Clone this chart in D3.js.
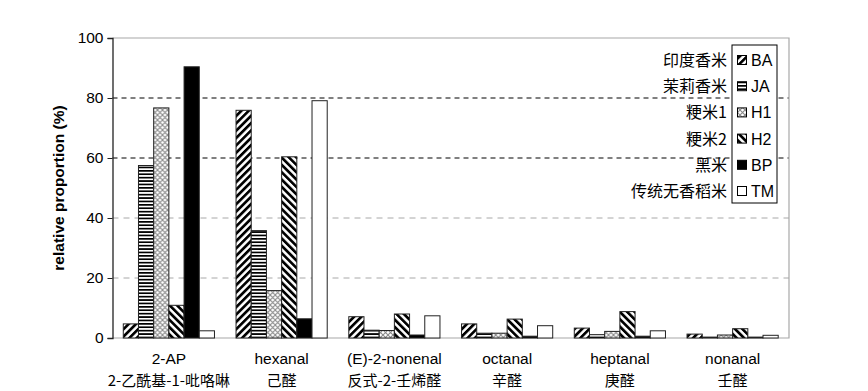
<!DOCTYPE html>
<html><head><meta charset="utf-8">
<script src="https://cdn.jsdelivr.net/npm/d3@7"></script>
<style>body{margin:0;background:#fff}svg{display:block}</style>
</head><body>
<svg id="c" width="868" height="391"></svg>
<script>
const groupsEN = ["2-AP","hexanal","(E)-2-nonenal","octanal","heptanal","nonanal"];
const groupsCN = ["2-乙酰基-1-吡咯啉","己醛","反式-2-壬烯醛","辛醛","庚醛","壬醛"];
const series = ["BA","JA","H1","H2","BP","TM"];
const seriesCN = ["印度香米","茉莉香米","粳米1","粳米2","黑米","传统无香稻米"];
const BA = [4.7, 75.9, 7.1, 4.7, 3.3, 1.3];
const JA = [57.5, 35.8, 2.6, 1.6, 1.1, 0.3];
const H1 = [76.7, 15.8, 2.5, 1.6, 2.2, 1.0];
const H2 = [10.9, 60.4, 8.0, 6.3, 8.8, 3.1];
const BP = [90.4, 6.4, 1.0, 0.6, 0.6, 0.3];
const TM = [2.4, 79.1, 7.4, 4.1, 2.4, 0.9];
const yTicks = [0, 20, 40, 60, 80, 100];
const values = {BA, JA, H1, H2, BP, TM};

const svg = d3.select("#c");
const L = 112.5, R = 789, T = 38, B = 338;
const font = "'Liberation Sans', Arial, sans-serif";
const cjk = "'Noto Sans CJK SC', sans-serif";

// patterns
const defs = svg.append("defs");
function stripes(id, angle) {
  const p = defs.append("pattern").attr("id", id).attr("patternUnits", "userSpaceOnUse")
    .attr("width", 5.2).attr("height", 5.2).attr("patternTransform", `rotate(${angle})`);
  p.append("rect").attr("width", 5.2).attr("height", 5.2).attr("fill", "#fff");
  p.append("rect").attr("width", 2.7).attr("height", 5.2).attr("fill", "#000");
}
stripes("pBA", 45);
stripes("pH2", -45);
{
  const p = defs.append("pattern").attr("id", "pJA").attr("patternUnits", "userSpaceOnUse")
    .attr("width", 4).attr("height", 3.4);
  p.append("rect").attr("width", 4).attr("height", 3.4).attr("fill", "#fff");
  p.append("rect").attr("width", 4).attr("height", 1.7).attr("fill", "#000");
}
{
  const p = defs.append("pattern").attr("id", "pH1").attr("patternUnits", "userSpaceOnUse")
    .attr("width", 5).attr("height", 5);
  p.append("rect").attr("width", 5).attr("height", 5).attr("fill", "#fff");
  p.append("path").attr("d", "M0,0L5,5M5,0L0,5").attr("stroke", "#8a8a8a").attr("stroke-width", 1.1);
}
const fills = {BA: "url(#pBA)", JA: "url(#pJA)", H1: "url(#pH1)", H2: "url(#pH2)", BP: "#000", TM: "#fff"};

const y = d3.scaleLinear().domain([0, 100]).range([B, T]);
const x0 = d3.scaleBand().domain(groupsEN).range([L, R]).padding(0);
const x1 = d3.scaleBand().domain(series).range([0, x0.bandwidth()]).paddingInner(0).paddingOuter(0.71);

// grid
const grid = svg.append("g");
yTicks.filter(t => t > 0 && t < 100).forEach(t => {
  const dark = t >= 60;
  grid.append("line").attr("x1", L).attr("x2", R).attr("y1", y(t)).attr("y2", y(t))
    .attr("stroke", dark ? "#000" : "#a8a8a8").attr("stroke-width", 1)
    .attr("stroke-dasharray", dark ? "5,4" : "6,5");
});
// frame top/right/bottom
svg.append("path").attr("d", `M${L},${y(100)}H${R}V${B}H${L}`).attr("fill", "none")
  .attr("stroke", "#a8a8a8").attr("stroke-width", 1.2);

// bars
const gG = svg.append("g").selectAll("g").data(groupsEN).join("g")
  .attr("transform", d => `translate(${x0(d)},0)`);
gG.selectAll("rect").data((d, i) => series.map(s => ({s, v: values[s][i]}))).join("rect")
  .attr("x", d => x1(d.s)).attr("width", x1.bandwidth())
  .attr("y", d => y(d.v)).attr("height", d => B - y(d.v))
  .attr("fill", d => fills[d.s]).attr("stroke", "#222").attr("stroke-width", 1);

// y axis
const ya = svg.append("g").attr("transform", `translate(${L},0)`)
  .call(d3.axisLeft(y).tickValues(yTicks).tickSize(5).tickPadding(4));
ya.select(".domain").attr("stroke", "#222").attr("stroke-width", 1.3);
ya.selectAll(".tick line").attr("stroke", "#222");
ya.selectAll("text").attr("font-family", font).attr("font-size", 15.5).attr("fill", "#000");

svg.append("text").attr("transform", `translate(64,${(T + B) / 2}) rotate(-90)`)
  .attr("text-anchor", "middle").attr("font-family", font).attr("font-weight", "bold")
  .attr("font-size", 15.5).text("relative proportion (%)");

// x labels
groupsEN.forEach((g, i) => {
  const cx = x0(g) + x0.bandwidth() / 2;
  svg.append("text").attr("x", cx).attr("y", 364).attr("text-anchor", "middle")
    .attr("font-family", font).attr("font-size", 15.5).text(g);
  svg.append("text").attr("x", cx).attr("y", 385.5).attr("text-anchor", "middle")
    .attr("font-family", cjk).attr("font-size", 15).text(groupsCN[i]);
});

// legend
svg.append("rect").attr("x", 732).attr("y", 45).attr("width", 45).attr("height", 158)
  .attr("fill", "#fff").attr("stroke", "#000").attr("stroke-width", 1);
series.forEach((s, i) => {
  const cy = 60 + i * 26.2;
  svg.append("rect").attr("x", 737.5).attr("y", cy - 4.5).attr("width", 9).attr("height", 9)
    .attr("fill", fills[s]).attr("stroke", "#000").attr("stroke-width", 1);
  svg.append("text").attr("x", 751).attr("y", cy + 6).attr("font-family", font)
    .attr("font-size", 16).text(s);
  svg.append("text").attr("x", 727).attr("y", cy + 6).attr("text-anchor", "end")
    .attr("font-family", cjk).attr("font-size", 16).text(seriesCN[i]);
});
</script>
</body></html>
